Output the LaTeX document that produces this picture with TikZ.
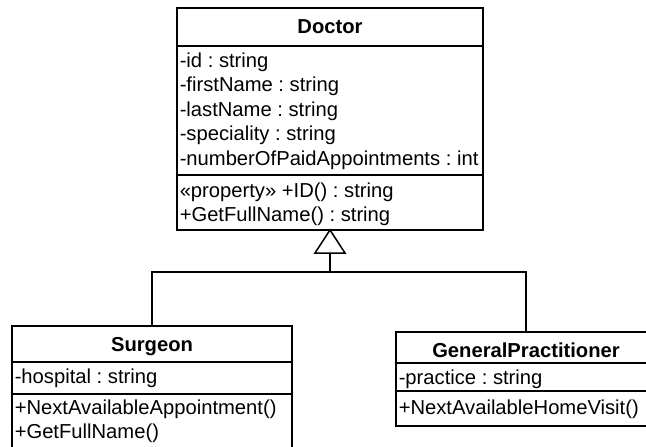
\documentclass[tikz,border=0pt]{standalone}
\usepackage{fontspec}
\setmainfont{Liberation Sans}
\frenchspacing
\begin{document}
\begin{tikzpicture}[x=1pt, y=-1pt, line width=1.5pt,
  classbox/.style={draw, rectangle, inner sep=0pt, outer sep=0pt, anchor=north west},
  member/.style={anchor=base west, inner sep=0pt, font=\fontsize{20.2}{24}\selectfont},
  classname/.style={anchor=base, inner sep=0pt, font=\fontsize{20.2}{24}\selectfont\bfseries}]
\useasboundingbox (0,0) rectangle (646,447);

% Doctor
\node[classbox, minimum width=306pt, minimum height=222pt] (doctor) at (177,8) {};
\draw (177,46) -- (483,46);
\draw (177,175) -- (483,175);
\node[classname] (dname) at (330,33) {Doctor};
\node[member] (da1) at (179,67) {-id : string};
\node[member] (da2) at (179,91.5) {-firstName : string};
\node[member] (da3) at (179,116) {-lastName : string};
\node[member] (da4) at (179,140.5) {-speciality : string};
\node[member] (da5) at (179,165) {-numberOfPaidAppointments : int};
\node[member] (dm1) at (179,197) {«property» +ID() : string};
\node[member] (dm2) at (179,221) {+GetFullName() : string};

% Surgeon
\node[classbox, minimum width=280pt, minimum height=150pt] (surgeon) at (12,326) {};
\draw (12,362) -- (292,362);
\draw (12,394) -- (292,394);
\node[classname] (sname) at (152,351) {Surgeon};
\node[member] (sa1) at (14,383) {-hospital : string};
\node[member] (sm1) at (14,414) {+NextAvailableAppointment()};
\node[member] (sm2) at (14,438) {+GetFullName()};

% GeneralPractitioner
\node[classbox, minimum width=260pt, minimum height=94pt] (gp) at (396,332) {};
\draw (396,363) -- (656,363);
\draw (396,391) -- (656,391);
\node[classname] (gname) at (526,357) {GeneralPractitioner};
\node[member] (ga1) at (398,384) {-practice : string};
\node[member] (gm1) at (398,414) {+NextAvailableHomeVisit()};

% generalization: hollow triangle and shared line
\coordinate (tribase) at (330,253);
\coordinate (joint) at (330,272);
\draw[fill=white, line join=miter] (doctor.south) -- (315,253) -- (345,253) -- cycle;
\draw (tribase) -- (joint);
\draw (surgeon.north) |- (joint) -| (gp.north);
\end{tikzpicture}
\end{document}
